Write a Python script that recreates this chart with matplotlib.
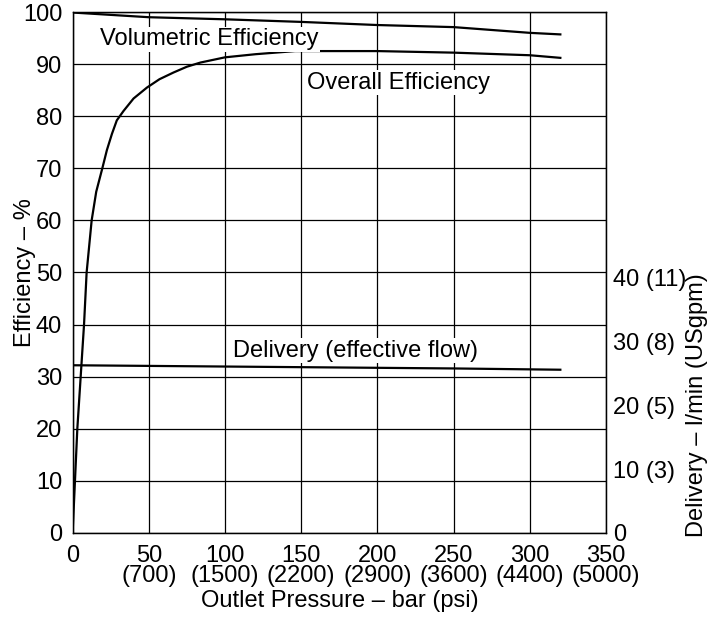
import numpy as np
import matplotlib
matplotlib.use("Agg")
import matplotlib.pyplot as plt

plt.rcParams['font.family'] = ['Liberation Sans', 'DejaVu Sans']

# pressure, bar
p_overall = [0, 3.1, 5.3, 7.5, 9.2, 12.5, 15.5, 19.5, 22.5, 25.8, 29, 33.4, 40, 48.8, 57, 66.3,
             75, 83.9, 100, 120, 146, 200, 250, 300, 320]
overall = [0, 20, 30, 40, 50, 60, 65.5, 70, 73.5, 76.6, 79.2, 81, 83.4, 85.5, 87.1, 88.4,
           89.5, 90.3, 91.3, 91.9, 92.5, 92.5, 92.2, 91.7, 91.2]

p_vol = [0, 50, 100, 150, 200, 250, 300, 320]
vol = [99.9, 99.0, 98.6, 98.1, 97.5, 97.1, 96.0, 95.7]

p_del = [0, 100, 200, 250, 320]
delivery = [26.3, 26.1, 25.9, 25.8, 25.6]  # l/min

x_ticks = [0, 50, 100, 150, 200, 250, 300, 350]
x_labels = ["0", "50\n(700)", "100\n(1500)", "150\n(2200)", "200\n(2900)",
            "250\n(3600)", "300\n(4400)", "350\n(5000)"]
y_ticks = [0, 10, 20, 30, 40, 50, 60, 70, 80, 90, 100]
r_ticks = [0, 10, 20, 30, 40]
r_labels = ["0", "10 (3)", "20 (5)", "30 (8)", "40 (11)"]

fs = 17

fig = plt.figure(figsize=(7.26, 6.19), dpi=100)
ax = fig.add_axes([0.1, 0.139, 0.7348, 0.8416])
ax.set_xlim(0, 350)
ax.set_ylim(0, 100)
ax.set_xticks(x_ticks)
ax.set_xticklabels(x_labels, fontsize=fs, linespacing=0.85)
ax.set_yticks(y_ticks)
ax.set_yticklabels([str(v) for v in y_ticks], fontsize=fs)
ax.tick_params(axis='y', length=0, pad=7.5)
ax.tick_params(axis='x', length=0, pad=9)
ax.grid(True, color='black', linewidth=0.9)
for s in ax.spines.values():
    s.set_linewidth(1.0)

ax.plot(p_overall, overall, color='black', linewidth=1.6)
ax.plot(p_vol, vol, color='black', linewidth=1.6)

ax.set_xlabel("Outlet Pressure – bar (psi)", fontsize=fs, labelpad=2)
ax.set_ylabel("Efficiency – %", fontsize=fs)
ax.yaxis.set_label_coords(-0.069, 0.5)

ax2 = ax.twinx()
ax2.set_ylim(0, 81.7)
ax2.set_yticks(r_ticks)
ax2.set_yticklabels(r_labels, fontsize=fs)
ax2.tick_params(length=0, pad=5)
ax2.plot(p_del, delivery, color='black', linewidth=1.6)
ax2.set_ylabel("Delivery – l/min (USgpm)", fontsize=fs)
ax2.yaxis.set_label_coords(1.15, 0.246)

box = dict(facecolor='white', edgecolor='none', pad=1)
ax.text(18, 94.8, "Volumetric Efficiency", fontsize=fs, va='center', ha='left', bbox=box)
ax.text(154, 86.4, "Overall Efficiency", fontsize=fs, va='center', ha='left', bbox=box)
ax.text(105, 35, "Delivery (effective flow)", fontsize=fs, va='center', ha='left', bbox=box)

fig.savefig("out.png", dpi=100)
